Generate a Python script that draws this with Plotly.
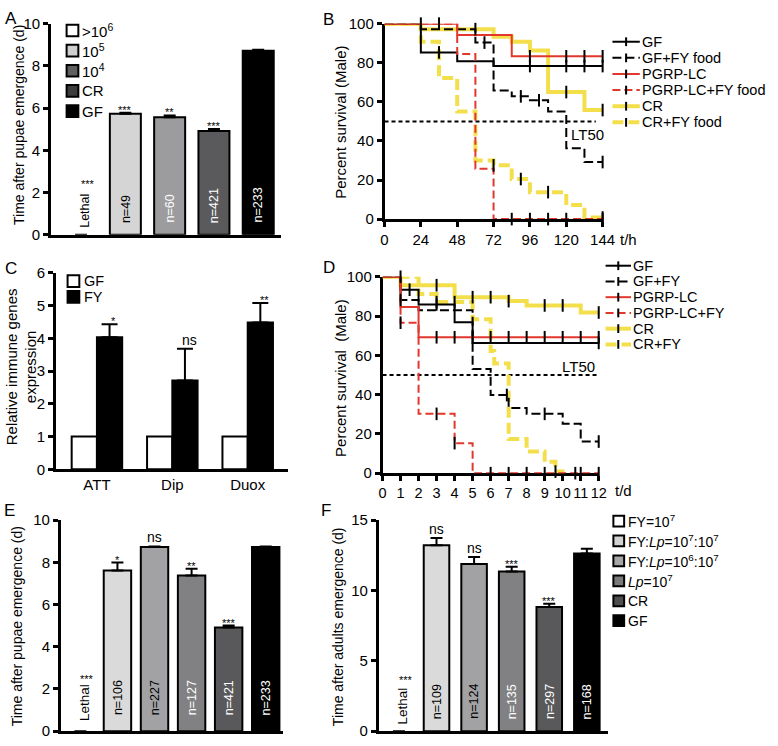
import plotly.graph_objects as go

W, H = 778, 746
FONT = "Liberation Sans, Arial, Helvetica, sans-serif"
YEL = "#f3df4c"
RED = "#e2372c"

# ---------------- Panel A : development time by inoculum ----------------
A_cats = [">10^6", "10^5", "10^4", "CR", "GF"]
A_vals = [0, 5.73, 5.57, 4.91, 8.72]
A_errs = [0, 0.05, 0.08, 0.10, 0.04]
A_labels = ["Lethal", "n=49", "n=60", "n=421", "n=233"]
A_sig = ["***", "***", "**", "***", ""]
A_legend = [">10<sup>6</sup>", "10<sup>5</sup>", "10<sup>4</sup>", "CR", "GF"]

# ---------------- Panel B : survival (hours) ----------------
B_names = ["GF", "GF+FY food", "PGRP-LC", "PGRP-LC+FY food", "CR", "CR+FY food"]
B_GF_t = [0, 24, 48, 72, 144]
B_GF_s = [100, 85.3, 80.8, 78.3, 78.3]
B_GF_c = [36, 96, 120, 132, 144]
B_GFFY_t = [0, 24, 60, 72, 84, 96, 108, 120, 132, 144]
B_GFFY_s = [100, 97.2, 90.3, 65.8, 62.8, 60.8, 55, 36.2, 29.2, 29.2]
B_GFFY_c = [66, 90, 102, 144]
B_PG_t = [0, 48, 84, 144]
B_PG_s = [100, 94.2, 83.3, 83.3]
B_PG_c = [24, 36, 96, 120, 132, 144]
B_PGFY_t = [0, 48, 60, 72, 144]
B_PGFY_s = [100, 84.5, 25.8, 0, 0]
B_PGFY_c = [84, 96, 108, 120, 144]
B_CR_t = [0, 24, 72, 84, 96, 108, 132, 144]
B_CR_s = [100, 97.2, 93.3, 90.8, 86.3, 65, 55.8, 55.8]
B_CR_c = [60, 120, 144]
B_CRFY_t = [0, 24, 36, 48, 60, 72, 84, 96, 120, 132, 144]
B_CRFY_s = [100, 90.8, 72.2, 55, 30, 27.5, 20.5, 13.8, 7.2, 0.8, 0.8]
B_CRFY_c = [72, 90, 108, 144]
B_LT50 = 50

# ---------------- Panel C : immune genes ----------------
C_genes = ["ATT", "Dip", "Duox"]
C_GF = [1, 1, 1]
C_FY = [4.03, 2.71, 4.48]
C_FY_err = [0.40, 0.97, 0.60]
C_sig = ["*", "ns", "**"]

# ---------------- Panel D : survival (days) ----------------
D_names = ["GF", "GF+FY", "PGRP-LC", "PGRP-LC+FY", "CR", "CR+FY"]
D_GF_t = [0, 1, 2, 4, 5, 12]
D_GF_s = [100, 93.4, 85.9, 76.8, 66.3, 66.3]
D_GF_c = [1.5, 3, 12]
D_GFFY_t = [0, 1, 2, 5, 6, 7, 8, 10, 11, 12]
D_GFFY_s = [100, 88.2, 82.9, 53.1, 39.8, 33.2, 30.2, 25.2, 16.1, 16.1]
D_GFFY_c = [1, 6.9, 9, 12]
D_PG_t = [0, 1, 2, 12]
D_PG_s = [100, 84.6, 69.2, 69.2]
D_PG_c = [3, 4, 5, 6, 7, 8, 9, 10, 11, 12]
D_PGFY_t = [0, 1, 2, 4, 5, 12]
D_PGFY_s = [100, 76.6, 30.2, 15.3, 0, 0]
D_PGFY_c = [1, 3, 4, 6, 7, 8, 9, 10.7, 11, 12]
D_CR_t = [0, 1, 4, 7, 8, 11, 12]
D_CR_s = [100, 95.7, 89.6, 87.6, 85.4, 81.8, 81.8]
D_CR_c = [3, 5, 6, 7, 9, 10, 12]
D_CRFY_t = [0, 2, 3, 5, 6, 6.2, 7, 8, 9, 9.6, 10.1]
D_CRFY_s = [100, 91.2, 87.1, 78.4, 62.2, 55.9, 17.4, 11.1, 5.8, 0.8, 0.8]
D_CRFY_c = [1, 3, 4, 9.6]
D_LT50 = 50

# ---------------- Panels E / F ----------------
EF_cats = ["FY=10^7", "FY:Lp=10^7:10^7", "FY:Lp=10^6:10^7", "Lp=10^7", "CR", "GF"]
EF_legend = ["FY=10<sup>7</sup>", "FY:<i>Lp</i>=10<sup>7</sup>:10<sup>7</sup>",
             "FY:<i>Lp</i>=10<sup>6</sup>:10<sup>7</sup>", "<i>Lp</i>=10<sup>7</sup>", "CR", "GF"]
E_vals = [0, 7.61, 8.72, 7.38, 4.91, 8.72]
E_errs = [0, 0.38, 0.03, 0.31, 0.09, 0.03]
E_labels = ["Lethal", "n=106", "n=227", "n=127", "n=421", "n=233"]
E_sig = ["***", "*", "ns", "**", "***", ""]
F_vals = [0, 13.22, 11.87, 11.34, 8.82, 12.62]
F_errs = [0, 0.51, 0.51, 0.35, 0.23, 0.34]
F_labels = ["Lethal", "n=109", "n=124", "n=135", "n=297", "n=168"]
F_sig = ["***", "ns", "ns", "***", "***", ""]

# ---------------- styles ----------------
A_colors = ["#ffffff", "#d5d5d5", "#9c9c9f", "#5a5a5c", "#000000"]
A_leg_colors = ["#ffffff", "#cfcfcf", "#5f5f5f", "#3c3c3c", "#000000"]
A_txt = ["black", "black", "white", "white", "white"]
EF_colors = ["#ffffff", "#dadada", "#a2a2a5", "#818184", "#59595b", "#000000"]
EF_leg_colors = ["#ffffff", "#d2d2d2", "#a6a6a6", "#7a7a7a", "#4e4e4e", "#000000"]
EF_txt = ["black", "black", "black", "white", "white", "white"]
SURV_STYLE = [
    dict(color="black", width=2, dash="solid"),
    dict(color="black", width=2, dash="9px,4px"),
    dict(color=RED, width=2, dash="solid"),
    dict(color=RED, width=2, dash="8px,4px"),
    dict(color=YEL, width=4, dash="solid"),
    dict(color=YEL, width=4, dash="11px,5px"),
]

fig = go.Figure()
shapes, annotations = [], []


def P(xp, yp):
    return xp / W, 1 - yp / H


def dom_x(a, b):
    return [a / W, b / W]


def dom_y(top, bottom):
    return [1 - bottom / H, 1 - top / H]


def text(xp, yp, s, size=15, xanchor="center", yanchor="middle", angle=0, color="black"):
    x, y = P(xp, yp)
    annotations.append(dict(x=x, y=y, xref="paper", yref="paper", text=s, showarrow=False,
                            xanchor=xanchor, yanchor=yanchor, textangle=angle,
                            font=dict(size=size, color=color, family=FONT)))


def swatch(x0, yc, size, color):
    xa, ya = P(x0, yc - size / 2)
    xb, yb = P(x0 + size, yc + size / 2)
    shapes.append(dict(type="rect", xref="paper", yref="paper", x0=xa, x1=xb, y0=yb, y1=ya,
                       fillcolor=color, line=dict(color="black", width=2)))


def line_key(x0, x1, yc, st):
    xa, y = P(x0, yc)
    xb, _ = P(x1, yc)
    shapes.append(dict(type="line", xref="paper", yref="paper", x0=xa, x1=xb, y0=y, y1=y,
                       line=dict(color=st["color"], width=st["width"], dash=st["dash"])))
    xm, ya = P((x0 + x1) / 2, yc - 4.5)
    _, yb = P((x0 + x1) / 2, yc + 4.5)
    shapes.append(dict(type="line", xref="paper", yref="paper", x0=xm, x1=xm, y0=yb, y1=ya,
                       line=dict(color="black", width=2)))


def step_val(ts, ss, t):
    v = ss[0]
    for ti, si in zip(ts, ss):
        if ti <= t:
            v = si
    return v


def axis_common(size=15):
    return dict(showline=True, linewidth=2.5, linecolor="black", ticks="outside", ticklen=5,
                tickwidth=2.5, tickcolor="black", showgrid=False, zeroline=False,
                tickfont=dict(size=size, color="black", family=FONT))


def bar_panel(xa, ya, cats, vals, errs, colors, width, labels, lab_colors, sig,
              lab_shift, leth_shift, leth_size, star_shift):
    outline = [0 if lab == "Lethal" else 2 for lab in labels]
    fig.add_trace(go.Bar(x=cats, y=vals, width=width, xaxis=xa, yaxis=ya, showlegend=False,
                         marker=dict(color=colors, line=dict(color="black", width=outline)),
                         error_y=dict(type="data", array=errs, arrayminus=[0] * len(errs),
                                      symmetric=False, color="black", thickness=2, width=6),
                         hoverinfo="skip"))
    for i, (c, lab) in enumerate(zip(cats, labels)):
        lethal = (lab == "Lethal")
        annotations.append(dict(x=c, y=0, xref=xa, yref=ya, text=lab, showarrow=False,
                                textangle=-90, yanchor="bottom", xanchor="center",
                                yshift=leth_shift if lethal else lab_shift, xshift=4 if lethal else 0,
                                font=dict(size=leth_size if lethal else 12.5, color=lab_colors[i],
                                          family=FONT)))
        if sig[i]:
            if lethal:
                annotations.append(dict(x=c, y=0, xref=xa, yref=ya, text=sig[i], showarrow=False,
                                        yanchor="bottom", xshift=7, yshift=star_shift,
                                        font=dict(size=11, color="black", family=FONT)))
            else:
                isns = sig[i] == "ns"
                annotations.append(dict(x=c, y=vals[i] + errs[i], xref=xa, yref=ya, text=sig[i],
                                        showarrow=False, yanchor="bottom",
                                        yshift=-1 if isns else -5,
                                        font=dict(size=14 if isns else 11, color="black", family=FONT)))


# ---------------- Panel A ----------------
bar_panel("x", "y", A_cats, A_vals, A_errs, A_colors, 0.7, A_labels, A_txt, A_sig, 10, 5, 12.5, 43)
# ---------------- Panel E ----------------
bar_panel("x5", "y5", EF_cats, E_vals, E_errs, EF_colors, 0.74, E_labels, EF_txt, E_sig, 14, 8, 13.5, 44)
# ---------------- Panel F ----------------
bar_panel("x6", "y6", EF_cats, F_vals, F_errs, EF_colors, 0.68, F_labels, EF_txt, F_sig, 10, 5, 13.5, 43)

# ---------------- Panel C ----------------
fig.add_trace(go.Bar(x=C_genes, y=C_GF, width=0.335, offset=-0.335, xaxis="x3", yaxis="y3",
                     marker=dict(color="white", line=dict(color="black", width=2)),
                     showlegend=False, hoverinfo="skip"))
fig.add_trace(go.Bar(x=C_genes, y=C_FY, width=0.335, offset=0, xaxis="x3", yaxis="y3",
                     marker=dict(color="black", line=dict(color="black", width=2)),
                     error_y=dict(type="data", array=C_FY_err, arrayminus=[0, 0, 0], symmetric=False,
                                  color="black", thickness=2, width=8),
                     showlegend=False, hoverinfo="skip"))
for g, v, e, s in zip(C_genes, C_FY, C_FY_err, C_sig):
    isns = s == "ns"
    annotations.append(dict(x=g, y=v + e, xref="x3", yref="y3", text=s, showarrow=False,
                            yanchor="bottom", xshift=17, yshift=-1 if isns else -5,
                            font=dict(size=14 if isns else 11, color="black", family=FONT)))

# ---------------- survival panels ----------------
B_series = [(B_GF_t, B_GF_s, B_GF_c), (B_GFFY_t, B_GFFY_s, B_GFFY_c), (B_PG_t, B_PG_s, B_PG_c),
            (B_PGFY_t, B_PGFY_s, B_PGFY_c), (B_CR_t, B_CR_s, B_CR_c), (B_CRFY_t, B_CRFY_s, B_CRFY_c)]
D_series = [(D_GF_t, D_GF_s, D_GF_c), (D_GFFY_t, D_GFFY_s, D_GFFY_c), (D_PG_t, D_PG_s, D_PG_c),
            (D_PGFY_t, D_PGFY_s, D_PGFY_c), (D_CR_t, D_CR_s, D_CR_c), (D_CRFY_t, D_CRFY_s, D_CRFY_c)]
draw_order = [5, 4, 0, 1, 3, 2]


def surv_panel(series, names, xa, ya, lt50, lt50_end):
    fig.add_trace(go.Scatter(x=[0, lt50_end], y=[lt50, lt50], mode="lines", xaxis=xa, yaxis=ya,
                             line=dict(color="black", width=2, dash="4px,3px"),
                             showlegend=False, hoverinfo="skip", cliponaxis=False))
    for k in draw_order:
        ts, ss, _ = series[k]
        st = SURV_STYLE[k]
        fig.add_trace(go.Scatter(x=ts, y=ss, mode="lines", name=names[k], xaxis=xa, yaxis=ya,
                                 line=dict(shape="hv", color=st["color"], width=st["width"], dash=st["dash"]),
                                 showlegend=False, hoverinfo="skip", cliponaxis=False))
    for k in draw_order:
        ts, ss, cs = series[k]
        fig.add_trace(go.Scatter(x=cs, y=[step_val(ts, ss, c) for c in cs], mode="markers",
                                 xaxis=xa, yaxis=ya, showlegend=False, hoverinfo="skip", cliponaxis=False,
                                 marker=dict(symbol="line-ns", size=9, color="black",
                                             line=dict(width=2, color="black"))))


surv_panel(B_series, B_names, "x2", "y2", B_LT50, 139.5)
surv_panel(D_series, D_names, "x4", "y4", D_LT50, 12)

# ---------------- axes ----------------
lay = {}
lay["xaxis"] = dict(axis_common(), domain=dom_x(48, 283), range=[-0.68, 4.51], anchor="y",
                    showticklabels=False, ticks="")
lay["yaxis"] = dict(axis_common(), domain=dom_y(15, 231), range=[0, 10], dtick=2, anchor="x")
lay["xaxis2"] = dict(axis_common(), domain=dom_x(389, 612), range=[0, 144], dtick=24, tick0=0,
                     anchor="y2", layer="below traces")
lay["yaxis2"] = dict(axis_common(), domain=dom_y(15, 215), range=[0, 100], dtick=20, anchor="x2",
                     layer="below traces")
lay["xaxis3"] = dict(axis_common(), domain=dom_x(53, 290), range=[-0.545, 2.53], anchor="y3", ticks="")
lay["yaxis3"] = dict(axis_common(), domain=dom_y(270, 471), range=[0, 6], dtick=1, anchor="x3")
lay["xaxis4"] = dict(axis_common(14.5), domain=dom_x(387, 608), range=[0, 12], dtick=1, tick0=0,
                     anchor="y4", layer="below traces")
lay["yaxis4"] = dict(axis_common(), domain=dom_y(274, 475), range=[0, 100], dtick=20, anchor="x4",
                     layer="below traces")
lay["xaxis5"] = dict(axis_common(), domain=dom_x(58, 285), range=[-0.53, 5.46], anchor="y5",
                     showticklabels=False, ticks="")
lay["yaxis5"] = dict(axis_common(), domain=dom_y(523, 739), range=[0, 10], dtick=2, anchor="x5")
lay["xaxis6"] = dict(axis_common(), domain=dom_x(383, 617), range=[-0.54, 5.55], anchor="y6",
                     showticklabels=False, ticks="")
lay["yaxis6"] = dict(axis_common(), domain=dom_y(523, 739), range=[0, 15], dtick=5, anchor="x6")

# ---------------- axis titles ----------------
text(16, 119, "Time after pupae emergence (d)", 14, angle=-90)
text(344, 116, "Percent survival (Male)", 15, angle=-90)
text(18, 366, "Relative immune genes<br>expression", 15, angle=-90)
text(344, 377, "Percent survival  (Male)", 15, angle=-90)
text(13, 632, "Time after pupae emergence (d)", 14, angle=-90)
text(341, 632, "Time after adults emergence (d)", 14, angle=-90)

# panel letters
for lt, xp, yp in [("A", 7, 10), ("B", 332, 11), ("C", 7, 266), ("D", 332, 265), ("E", 6, 513), ("F", 329, 513)]:
    text(xp, yp, lt, 17)

# axis unit labels and LT50
text(628, 236, "t/h", 15, xanchor="left")
text(623, 493, "t/d", 15, xanchor="left")
text(597, 128, "LT50", 15)
text(587, 366, "LT50", 15)

# ---------------- legends ----------------
for i, (lab, col) in enumerate(zip(A_legend, A_leg_colors)):
    yc = 22 + 20.6 * i
    swatch(64, yc, 12, col)
    text(78, yc, lab, 15, xanchor="left")

for i, (lab, col) in enumerate(zip(["GF", "FY"], ["white", "black"])):
    yc = 278.5 + 16.2 * i
    swatch(65, yc, 12, col)
    text(80, yc, lab, 14.5, xanchor="left")

for i, (lab, col) in enumerate(zip(EF_legend, EF_leg_colors)):
    yc = 524 + 20.4 * i
    swatch(623, yc, 11, col)
    text(636, yc, lab, 14, xanchor="left")

for i, nm in enumerate(B_names):
    yc = 33.5 + 16.5 * i
    line_key(622, 650, yc, SURV_STYLE[i])
    text(650, yc, nm, 14.5, xanchor="left")

for i, nm in enumerate(D_names):
    yc = 262.7 + 16.1 * i
    line_key(615, 641, yc, SURV_STYLE[i])
    text(641, yc, nm, 14.5, xanchor="left")

fig.update_layout(width=W, height=H, margin=dict(l=0, r=0, t=0, b=0), autosize=False,
                  paper_bgcolor="white", plot_bgcolor="white", showlegend=False,
                  font=dict(family=FONT, color="black"), barmode="overlay",
                  shapes=shapes, annotations=annotations, **lay)

fig.write_html("out.html", config={"displayModeBar": False},
               post_script="document.body.style.margin='0';")
